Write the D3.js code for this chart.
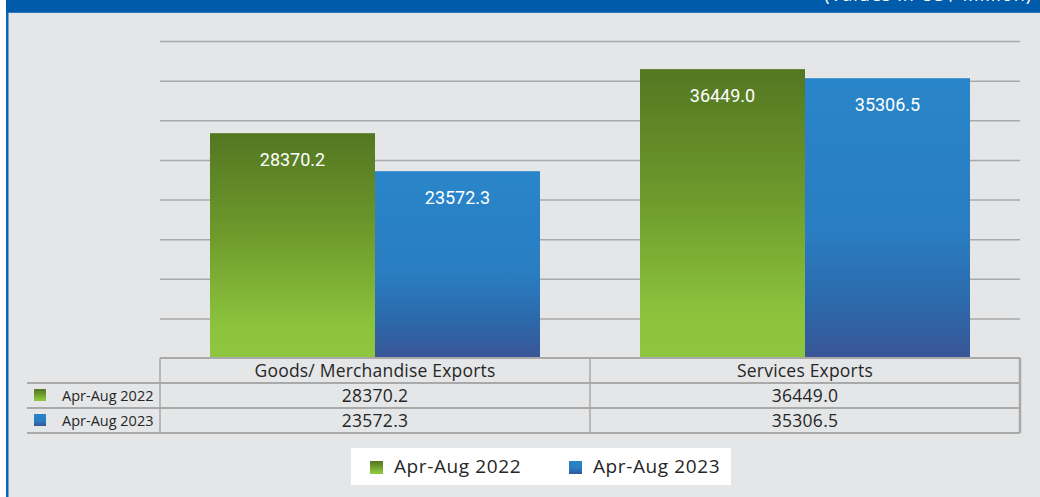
<!DOCTYPE html>
<html>
<head>
  <meta charset="UTF-8">
  <style>
    body { margin: 0; background: #fff; }
    svg { display: block; }
    text { font-family: "Open Sans", sans-serif; }
  </style>
</head>
<body>
<svg></svg>
<script src="https://d3js.org/d3.v7.min.js"></script>
<script>

let width = 1040, height = 497;

// data
let categories = ["Goods/ Merchandise Exports", "Services Exports"];
let seriesNames = ["Apr-Aug 2022", "Apr-Aug 2023"];
let values2022 = [28370.2, 36449.0];
let values2023 = [23572.3, 35306.5];
let unitNote = "(Values in US$ Million)";

let seriesVals = [values2022, values2023];

let svg = d3.select("svg")
    .attr("width", width)
    .attr("height", height)

// gradients
let defs = svg.append("defs");
let green = defs.append("linearGradient").attr("id", "gGreen").attr("x1", 0).attr("y1", 0).attr("x2", 0).attr("y2", 1);
green.append("stop").attr("offset", "0%").attr("stop-color", "#537722");
green.append("stop").attr("offset", "45%").attr("stop-color", "#6e9a2c");
green.append("stop").attr("offset", "85%").attr("stop-color", "#8bc33d");
green.append("stop").attr("offset", "100%").attr("stop-color", "#8ec63f");
let blue = defs.append("linearGradient").attr("id", "gBlue").attr("x1", 0).attr("y1", 0).attr("x2", 0).attr("y2", 1);
blue.append("stop").attr("offset", "0%").attr("stop-color", "#2985c9");
blue.append("stop").attr("offset", "55%").attr("stop-color", "#2a7dc1");
blue.append("stop").attr("offset", "80%").attr("stop-color", "#2b69ab");
blue.append("stop").attr("offset", "100%").attr("stop-color", "#3a5596");
let fills = ["url(#gGreen)", "url(#gBlue)"];

// frame
svg.append("rect").attr("x", 6).attr("y", 0).attr("width", width - 6).attr("height", height).attr("fill", "#e5e6e8");
svg.append("rect").attr("x", 6).attr("y", 0).attr("width", 2.5).attr("height", height).attr("fill", "#0f65b5");
svg.append("rect").attr("x", 6).attr("y", 0).attr("width", width - 6).attr("height", 12).attr("fill", "#005bab");
svg.append("line").attr("x1", 8).attr("x2", width).attr("y1", 12.5).attr("y2", 12.5).attr("stroke", "#2f79bd").attr("stroke-width", 1);

// unit note, cut by the top edge as in the original
svg.append("text")
    .attr("x", 1032).attr("y", 1)
    .attr("text-anchor", "end")
    .attr("fill", "#fff")
    .style("font-size", "18px")
    .style("letter-spacing", "1px")
    .text(unitNote);

// scales
let plotLeft = 160, plotRight = 1020, plotTop = 41, plotBottom = 358;

let x = d3.scaleBand().domain(categories).range([plotLeft, plotRight]).paddingInner(0).paddingOuter(0);
let xs = d3.scaleBand().domain(seriesNames).range([0, x.bandwidth()]).paddingOuter(0.303).paddingInner(0);
let y = d3.scaleLinear().domain([0, 40000]).range([plotBottom, plotTop]);

// grid
svg.append("g")
    .attr("transform", "translate(" + plotLeft + ",0)")
    .call(d3.axisLeft(y).ticks(8).tickSize(-(plotRight - plotLeft)).tickFormat(""))
    .call(g => g.select(".domain").remove())
    .call(g => g.selectAll(".tick line").attr("stroke", "#a9a9a9").attr("stroke-width", 1.5))
    .call(g => g.selectAll(".tick").filter(d => d === 0).remove());

// bars
let groups = svg.append("g").selectAll("g")
    .data(categories)
    .join("g")
    .attr("transform", d => "translate(" + x(d) + ",0)");

groups.selectAll("rect")
    .data((d, i) => seriesNames.map((s, j) => ({ s: s, j: j, v: seriesVals[j][i] })))
    .join("rect")
    .attr("x", d => xs(d.s))
    .attr("y", d => y(d.v))
    .attr("width", xs.bandwidth())
    .attr("height", d => y(0) - y(d.v))
    .attr("fill", d => fills[d.j]);

groups.selectAll("text.lbl")
    .data((d, i) => seriesNames.map((s, j) => ({ s: s, j: j, v: seriesVals[j][i] })))
    .join("text")
    .attr("class", "lbl")
    .attr("x", d => xs(d.s) + xs.bandwidth() / 2)
    .attr("y", d => y(d.v) + 28)
    .attr("text-anchor", "middle")
    .attr("dominant-baseline", "middle")
    .attr("fill", "#fff")
    .style("font-family", "Roboto, sans-serif")
    .style("font-size", "18px")
    .text(d => d.v.toFixed(1));

// data table
let rowH = 25, tableLeft = 27;
let lineCol = "#a9a9a9";
let tbl = svg.append("g");

// horizontal lines
tbl.append("line").attr("x1", plotLeft).attr("x2", plotRight).attr("y1", plotBottom).attr("y2", plotBottom).attr("stroke", lineCol).attr("stroke-width", 2);
[1, 2, 3].forEach(r => {
    tbl.append("line").attr("x1", tableLeft).attr("x2", plotRight)
        .attr("y1", plotBottom + r * rowH).attr("y2", plotBottom + r * rowH)
        .attr("stroke", lineCol).attr("stroke-width", 2);
});
// vertical lines
[plotLeft, plotLeft + x.bandwidth(), plotRight].forEach((vx, i) => {
    tbl.append("line").attr("x1", vx).attr("x2", vx)
        .attr("y1", plotBottom).attr("y2", plotBottom + 3 * rowH)
        .attr("stroke", lineCol).attr("stroke-width", i === 2 ? 2.5 : 1.5);
});

// header
tbl.selectAll("text.hdr")
    .data(categories)
    .join("text")
    .attr("class", "hdr")
    .attr("x", d => x(d) + x.bandwidth() / 2)
    .attr("y", plotBottom + rowH / 2 + 1.5)
    .attr("text-anchor", "middle")
    .attr("dominant-baseline", "middle")
    .attr("fill", "#262626")
    .style("font-size", "17.5px")
    .style("letter-spacing", "0.2px")
    .text(d => d);

seriesNames.forEach((s, j) => {
    let ry = plotBottom + (j + 1) * rowH;
    tbl.append("rect").attr("x", 34).attr("y", ry + 6).attr("width", 12).attr("height", 12).attr("fill", fills[j]);
    tbl.append("text")
        .attr("x", 62).attr("y", ry + rowH / 2 + 1.5)
        .attr("dominant-baseline", "middle")
        .attr("fill", "#262626")
        .style("font-size", "14.5px")
        .text(s);
    categories.forEach((c, i) => {
        tbl.append("text")
            .attr("x", x(c) + x.bandwidth() / 2)
            .attr("y", ry + rowH / 2 + 1.5)
            .attr("text-anchor", "middle")
            .attr("dominant-baseline", "middle")
            .attr("fill", "#262626")
            .style("font-size", "17.5px")
            .style("letter-spacing", "0.3px")
            .text(seriesVals[j][i].toFixed(1));
    });
});

// legend
let leg = svg.append("g").attr("transform", "translate(351,448)");
leg.append("rect").attr("width", 380).attr("height", 37).attr("fill", "#fff");
let legX = [19, 218];
seriesNames.forEach((s, j) => {
    leg.append("rect").attr("x", legX[j]).attr("y", 13).attr("width", 13).attr("height", 13).attr("fill", fills[j]);
    leg.append("text")
        .attr("x", legX[j] + 24).attr("y", 19.5)
        .attr("dominant-baseline", "middle")
        .attr("fill", "#262626")
        .style("font-size", "19px")
        .style("letter-spacing", "0.6px")
        .text(s);
});

</script>
</body>
</html>
